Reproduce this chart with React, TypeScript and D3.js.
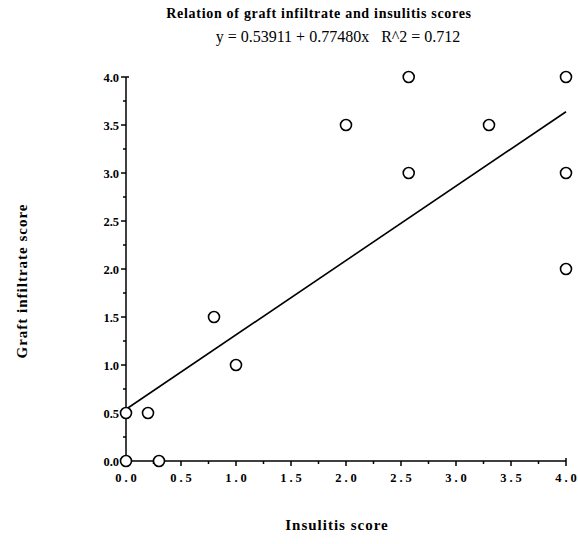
import React, { useEffect, useRef } from 'react';
import * as d3 from 'd3';

const insulitis = [0, 0.3, 0, 0.2, 0.8, 1.0, 2.0, 2.57, 2.57, 3.3, 4.0, 4.0, 4.0];
const infiltrate = [0, 0, 0.5, 0.5, 1.5, 1.0, 3.5, 4.0, 3.0, 3.5, 4.0, 3.0, 2.0];
const intercept = 0.53911;
const slope = 0.7748;
const majorTicks = [0, 0.5, 1, 1.5, 2, 2.5, 3, 3.5, 4];
const minorTicks = [0.25, 0.75, 1.25, 1.75, 2.25, 2.75, 3.25, 3.75];

const App = () => {
  const svgRef = useRef(null);

  useEffect(() => {
    const svg = d3.select(svgRef.current);
    svg.selectAll('*').remove();

    const x = d3.scaleLinear().domain([0, 4]).range([126, 566]);
    const y = d3.scaleLinear().domain([0, 4]).range([461, 77]);
    const font = '"Liberation Serif", "Times New Roman", serif';

    svg.append('text').attr('x', 319).attr('y', 18).attr('text-anchor', 'middle')
      .attr('font-family', font).attr('font-weight', 'bold').attr('font-size', 14)
      .attr('letter-spacing', 0.7).text('Relation of graft infiltrate and insulitis scores');
    svg.append('text').attr('x', 338).attr('y', 42).attr('text-anchor', 'middle')
      .attr('font-family', font).attr('font-size', 16).attr('xml:space', 'preserve')
      .text('y = 0.53911 + 0.77480x   R^2 = 0.712');

    const g = svg.append('g').attr('stroke', '#000').attr('stroke-width', 1.5);
    g.append('line').attr('x1', x(0)).attr('x2', x(4)).attr('y1', y(0)).attr('y2', y(0));
    g.append('line').attr('x1', x(0)).attr('x2', x(0)).attr('y1', y(0)).attr('y2', y(4));

    g.selectAll('.xmaj').data(majorTicks).enter().append('line')
      .attr('x1', (d) => x(d)).attr('x2', (d) => x(d)).attr('y1', y(0)).attr('y2', y(0) + 5);
    g.selectAll('.xmin').data(minorTicks).enter().append('line')
      .attr('x1', (d) => x(d)).attr('x2', (d) => x(d)).attr('y1', y(0)).attr('y2', y(0) + 3);
    g.append('line').attr('x1', x(4)).attr('x2', x(4)).attr('y1', y(0)).attr('y2', y(0) - 3);
    g.selectAll('.ymaj').data(majorTicks).enter().append('line')
      .attr('x1', x(0) - 5).attr('x2', x(0)).attr('y1', (d) => y(d)).attr('y2', (d) => y(d));
    g.selectAll('.ymin').data(minorTicks).enter().append('line')
      .attr('x1', x(0) - 3).attr('x2', x(0)).attr('y1', (d) => y(d)).attr('y2', (d) => y(d));
    g.append('line').attr('x1', x(0)).attr('x2', x(0) + 3).attr('y1', y(4)).attr('y2', y(4));

    svg.selectAll('.xl').data(majorTicks).enter().append('text')
      .attr('x', (d) => x(d) + 1.5).attr('y', y(0) + 21).attr('text-anchor', 'middle')
      .attr('font-family', font).attr('font-weight', 'bold').attr('font-size', 12.5)
      .attr('letter-spacing', 3).text((d) => d3.format('.1f')(d));
    svg.selectAll('.yl').data(majorTicks).enter().append('text')
      .attr('x', x(0) - 7).attr('y', (d) => y(d) + 4.5).attr('text-anchor', 'end')
      .attr('font-family', font).attr('font-weight', 'bold').attr('font-size', 12.5)
      .text((d) => d3.format('.1f')(d));

    const line = d3.line<number>().x((d) => x(d)).y((d) => y(intercept + slope * d));
    svg.append('path').datum([0, 4]).attr('d', line).attr('fill', 'none')
      .attr('stroke', '#000').attr('stroke-width', 1.6);

    svg.selectAll('circle').data(insulitis).enter().append('circle')
      .attr('cx', (d) => x(d)).attr('cy', (d, i) => y(infiltrate[i])).attr('r', 5.5)
      .attr('fill', '#fff').attr('stroke', '#000').attr('stroke-width', 1.6);

    svg.append('text').attr('x', 337).attr('y', 530).attr('text-anchor', 'middle')
      .attr('font-family', font).attr('font-weight', 'bold').attr('font-size', 15)
      .attr('letter-spacing', 1).text('Insulitis score');
    svg.append('text').attr('transform', 'translate(27,281) rotate(-90)').attr('text-anchor', 'middle')
      .attr('font-family', font).attr('font-weight', 'bold').attr('font-size', 15)
      .attr('letter-spacing', 1).text('Graft infiltrate score');
  }, []);

  return <svg ref={svgRef} width={578} height={544} style={{ position: 'absolute', left: 0, top: 0 }}></svg>;
};

export default App;
